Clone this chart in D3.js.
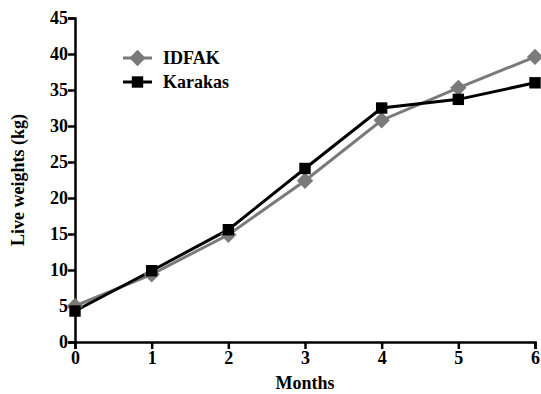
<!DOCTYPE html>
<html>
<head>
<meta charset="utf-8">
<script src="https://cdn.jsdelivr.net/npm/d3@7"></script>
</head>
<body style="margin:0;background:#fff">
<svg id="chart" width="541" height="394"></svg>
<script>
// data
var months = [0, 1, 2, 3, 4, 5, 6];
var idfak = [5.0, 9.4, 14.9, 22.4, 30.8, 35.3, 39.6];
var karakas = [4.3, 9.9, 15.6, 24.1, 32.5, 33.7, 36.0];
var yTicks = [0, 5, 10, 15, 20, 25, 30, 35, 40, 45];

var FONT = "Liberation Serif";
var svg = d3.select("#chart");
var margin = {left: 75, top: 18, right: 6, bottom: 52};
var w = 541 - margin.left - margin.right;
var h = 394 - margin.top - margin.bottom;

var x = d3.scaleLinear().domain([0, 6]).range([0, w]);
var y = d3.scaleLinear().domain([0, 45]).range([h, 0]);

var g = svg.append("g").attr("transform", "translate(" + margin.left + "," + margin.top + ")");

var xAxis = g.append("g").attr("transform", "translate(0," + h + ")")
    .call(d3.axisBottom(x).tickValues(months).tickFormat(d3.format("d")).tickSize(7).tickPadding(2));
var yAxis = g.append("g")
    .call(d3.axisLeft(y).tickValues(yTicks).tickSize(7).tickPadding(0));

// serif bold text everywhere
function serif(sel) {
    sel.attr("font-family", FONT).attr("font-size", 18).attr("font-weight", "bold")
        .style("font-family", FONT).style("font-weight", "bold");
    return sel;
}

[xAxis, yAxis].forEach(function (a) {
    serif(a);
    a.select(".domain").attr("stroke", "#000").attr("stroke-width", 2.5);
    a.selectAll(".tick line").attr("stroke", "#000").attr("stroke-width", 2.5);
    serif(a.selectAll(".tick text")).attr("fill", "#000");
});

var line = d3.line().x(function (d, i) { return x(months[i]); }).y(function (d) { return y(d); });

// IDFAK (grey diamonds)
g.append("path").datum(idfak).attr("d", line)
    .attr("fill", "none").attr("stroke", "#7a7a7a").attr("stroke-width", 3);
// Karakas (black squares)
g.append("path").datum(karakas).attr("d", line)
    .attr("fill", "none").attr("stroke", "#000").attr("stroke-width", 3);

var diamond = d3.symbol().type(d3.symbolDiamond2).size(170);
var square = d3.symbol().type(d3.symbolSquare).size(130);

g.selectAll(".pi").data(idfak).enter().append("path")
    .attr("transform", function (d, i) { return "translate(" + x(months[i]) + "," + y(d) + ")"; })
    .attr("d", diamond).attr("fill", "#7a7a7a");
g.selectAll(".pk").data(karakas).enter().append("path")
    .attr("transform", function (d, i) { return "translate(" + x(months[i]) + "," + y(d) + ")"; })
    .attr("d", square).attr("fill", "#000");

// legend
var legend = [
    {name: "IDFAK", color: "#7a7a7a", sym: diamond},
    {name: "Karakas", color: "#000", sym: square}
];
var lg = svg.append("g").attr("transform", "translate(123,58)");
legend.forEach(function (d, i) {
    var row = lg.append("g").attr("transform", "translate(0," + (i * 24) + ")");
    row.append("line").attr("x1", 0).attr("x2", 29).attr("stroke", d.color).attr("stroke-width", 3);
    row.append("path").attr("transform", "translate(14.5,0)").attr("d", d.sym).attr("fill", d.color);
    serif(row.append("text").attr("x", 40).attr("y", 6)).text(d.name);
});

// axis titles
serif(svg.append("text").attr("x", margin.left + w / 2).attr("y", 389).attr("text-anchor", "middle"))
    .text("Months");
serif(svg.append("text").attr("transform", "translate(24," + (margin.top + h / 2) + ") rotate(-90)")
    .attr("text-anchor", "middle")).text("Live weights (kg)");
</script>
</body>
</html>
